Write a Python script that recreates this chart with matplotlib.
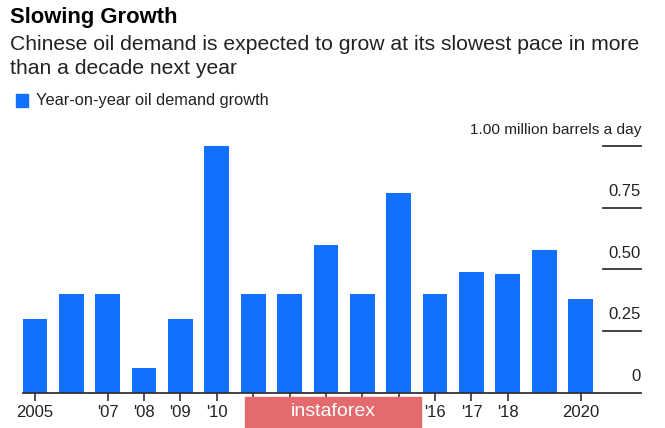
import numpy as np
import matplotlib
matplotlib.use("Agg")
import matplotlib.pyplot as plt
from matplotlib.patches import Rectangle

plt.rcParams['font.family'] = ['Liberation Sans', 'DejaVu Sans']

# data
years = list(range(2005, 2021))
growth = [0.30, 0.40, 0.40, 0.10, 0.30, 1.00, 0.40, 0.40, 0.60, 0.40,
          0.81, 0.40, 0.49, 0.48, 0.58, 0.38]
tick_years = [2005, 2007, 2008, 2009, 2010, 2011, 2012, 2013, 2014, 2015,
              2016, 2017, 2018, 2020]
# labels for 2011-15 are hidden under the watermark in the reference
tick_labels = ["2005", "'07", "'08", "'09", "'10", "", "", "", "",
               "", "'16", "'17", "'18", "2020"]
y_ticks = [0, 0.25, 0.50, 0.75, 1.00]
y_labels = ["0", "0.25", "0.50", "0.75", "1.00 million barrels a day"]

BLUE = "#1170fd"
TXT = "#222222"
W, H = 665, 428

fig = plt.figure(figsize=(W/100, H/100), dpi=100)
fig.patch.set_facecolor("white")

# axes placed in pixel terms
x0, x1, yb, yt = 23, 641, 392.6, 146
ax = fig.add_axes([x0/W, (H-yb)/H, (x1-x0)/W, (yb-yt)/H])
ax.set_facecolor("none")

idx = np.arange(len(years))
ax.bar(idx, growth, width=0.68, color=BLUE, zorder=2)

pitch = 36.37
xlo = -(35-x0)/pitch
xhi = (x1-35)/pitch
ax.set_xlim(xlo, xhi)
ax.set_ylim(0, 1.0)

for s in ["top", "right", "left"]:
    ax.spines[s].set_visible(False)
ax.spines["bottom"].set_color("#333333")
ax.spines["bottom"].set_linewidth(1.3)

ax.set_yticks([])
ax.set_xticks([years.index(y) for y in tick_years])
ax.set_xticklabels(tick_labels, fontsize=12, color=TXT)
ax.tick_params(axis="x", length=6, width=1.2, color="#333333", pad=3)

# short right-hand gridlines with labels sitting above them
gl0 = (603-35)/pitch
for v, lab in zip(y_ticks, y_labels):
    if v > 0:
        ax.plot([gl0, xhi], [v, v], color="#333333", lw=1.3, clip_on=False, zorder=3)
    ax.annotate(lab, (xhi, v), xytext=(0, 16), textcoords="offset pixels",
                ha="right", va="center", fontsize=11.1 if v == 1.0 else 12,
                color=TXT, annotation_clip=False)

# titles and legend
fig.text(10/W, 1-18/H, "Slowing Growth", fontsize=15.8, fontweight="bold",
         color="black", va="center", ha="left")
fig.text(10/W, 1-44/H, "Chinese oil demand is expected to grow at its slowest pace in more",
         fontsize=15.2, color=TXT, va="center", ha="left")
fig.text(10/W, 1-68/H, "than a decade next year",
         fontsize=15.2, color=TXT, va="center", ha="left")
fig.patches.append(Rectangle((16/W, 1-107/H), 12/W, 13/H, transform=fig.transFigure,
                             color=BLUE, figure=fig))
fig.text(36/W, 1-100/H, "Year-on-year oil demand growth", fontsize=11.8,
         color=TXT, va="center", ha="left")

# watermark box over the middle labels
fig.patches.append(Rectangle((245/W, 0), 176/W, 31/H, transform=fig.transFigure,
                             color="#e36b6d", figure=fig, zorder=10))
fig.text(333/W, 1-412/H, "instaforex", fontsize=14, color="white",
         va="center", ha="center", zorder=11)

fig.savefig("out.png", dpi=100)
